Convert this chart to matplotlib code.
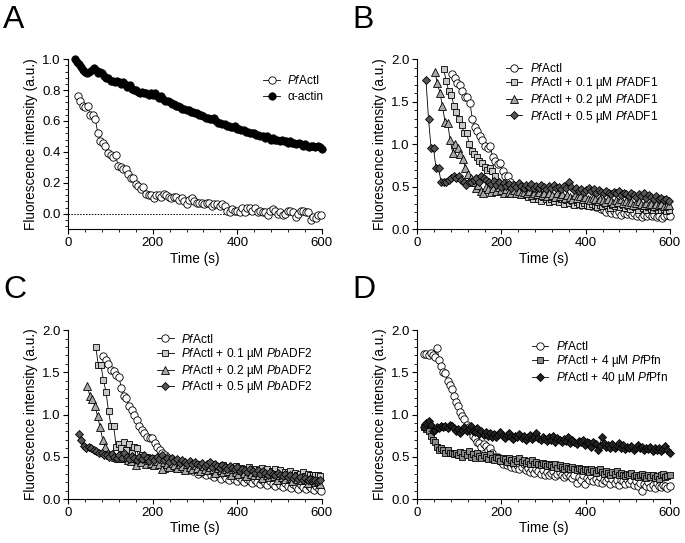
import numpy as np
import matplotlib
matplotlib.use('Agg')
import matplotlib.pyplot as plt
from matplotlib.ticker import MultipleLocator

plt.rcParams['font.family'] = ['Liberation Sans', 'DejaVu Sans']
plt.rcParams['mathtext.fontset'] = 'custom'
plt.rcParams['mathtext.rm'] = 'Liberation Sans'
plt.rcParams['mathtext.it'] = 'Liberation Sans:italic'

# ---------------- data ----------------
# Panel A
a_pf_t = (22, 598)
a_pf = [0.76, 0.73, 0.70, 0.69, 0.70, 0.64, 0.64, 0.61, 0.52, 0.47, 0.46, 0.44, 0.39, 0.38,
        0.37, 0.38, 0.31, 0.30, 0.29, 0.29, 0.26, 0.23, 0.23, 0.19, 0.18, 0.16, 0.17, 0.13,
        0.12, 0.12, 0.10, 0.12, 0.12, 0.11, 0.13, 0.12, 0.11, 0.10, 0.11, 0.11, 0.09, 0.10,
        0.08, 0.06, 0.09, 0.10, 0.08, 0.07, 0.07, 0.07, 0.06, 0.07, 0.07, 0.05, 0.06, 0.06,
        0.05, 0.06, 0.05, 0.02, 0.01, 0.03, 0.02, 0.02, 0.01, 0.04, 0.01, 0.04, 0.04, 0.02,
        0.04, 0.01, 0.02, 0.01, 0.01, -0.01, 0.02, 0.03, 0.02, 0.00, 0.01, -0.01, 0.00, 0.02,
        0.02, 0.01, -0.02, 0.00, 0.02, 0.02, 0.01, 0.01, -0.04, -0.02, -0.03, -0.01, -0.01]
a_alpha_t = (15, 600)
a_alpha = [1.00, 0.98, 0.97, 0.95, 0.93, 0.92, 0.91, 0.92, 0.93, 0.94, 0.93, 0.91, 0.92, 0.91,
           0.89, 0.88, 0.88, 0.86, 0.86, 0.85, 0.86, 0.85, 0.84, 0.85, 0.84, 0.82, 0.83, 0.81,
           0.80, 0.80, 0.79, 0.78, 0.79, 0.78, 0.78, 0.77, 0.78, 0.77, 0.78, 0.76, 0.75, 0.76,
           0.74, 0.73, 0.73, 0.72, 0.71, 0.71, 0.70, 0.70, 0.69, 0.68, 0.68, 0.67, 0.67, 0.66,
           0.66, 0.65, 0.65, 0.64, 0.64, 0.63, 0.62, 0.62, 0.61, 0.61, 0.62, 0.60, 0.59, 0.59,
           0.58, 0.58, 0.57, 0.57, 0.56, 0.56, 0.57, 0.55, 0.55, 0.54, 0.54, 0.53, 0.53, 0.52,
           0.52, 0.52, 0.51, 0.51, 0.50, 0.50, 0.49, 0.50, 0.49, 0.48, 0.49, 0.48, 0.48, 0.47,
           0.48, 0.47, 0.47, 0.46, 0.47, 0.46, 0.46, 0.45, 0.46, 0.45, 0.44, 0.45, 0.44, 0.43,
           0.44, 0.44, 0.43, 0.44, 0.43, 0.42]

# Panel B
b_pf_t = (83, 599)
b_pf = [1.82, 1.78, 1.72, 1.70, 1.63, 1.56, 1.55, 1.49, 1.30, 1.20, 1.15, 1.10, 1.05, 0.98,
        0.95, 0.98, 0.85, 0.80, 0.77, 0.78, 0.68, 0.63, 0.62, 0.55, 0.52, 0.50, 0.48, 0.46,
        0.47, 0.44, 0.45, 0.42, 0.44, 0.40, 0.42, 0.38, 0.40, 0.37, 0.39, 0.36, 0.38, 0.35,
        0.37, 0.34, 0.35, 0.33, 0.35, 0.31, 0.33, 0.30, 0.32, 0.29, 0.31, 0.28, 0.30, 0.27,
        0.28, 0.26, 0.27, 0.24, 0.22, 0.20, 0.22, 0.19, 0.21, 0.18, 0.20, 0.17, 0.19, 0.18,
        0.20, 0.17, 0.19, 0.16, 0.18, 0.14, 0.17, 0.16, 0.18, 0.15, 0.17, 0.14, 0.16, 0.13,
        0.15, 0.17, 0.15]
b_01_t = (63, 597)
b_01 = [1.88, 1.74, 1.62, 1.58, 1.45, 1.38, 1.30, 1.22, 1.13, 1.13, 1.00, 0.92, 0.88, 0.85,
        0.80, 0.78, 0.73, 0.70, 0.72, 0.68, 0.62, 0.55, 0.52, 0.50, 0.48, 0.52, 0.45, 0.47,
        0.43, 0.46, 0.42, 0.40, 0.44, 0.38, 0.41, 0.36, 0.40, 0.35, 0.33, 0.38, 0.35, 0.32,
        0.36, 0.33, 0.37, 0.32, 0.35, 0.30, 0.34, 0.31, 0.33, 0.29, 0.32, 0.30, 0.28, 0.31,
        0.29, 0.27, 0.30, 0.28, 0.26, 0.29, 0.27, 0.30, 0.28, 0.25, 0.29, 0.27, 0.30, 0.26,
        0.28, 0.25, 0.27, 0.24, 0.28, 0.26, 0.23, 0.27, 0.25, 0.22, 0.26, 0.24, 0.22, 0.25,
        0.23, 0.22, 0.24, 0.21, 0.22]
b_02_t = (42, 598)
b_02 = [1.85, 1.72, 1.60, 1.45, 1.26, 1.25, 1.05, 0.90, 1.00, 0.95, 0.88, 0.82, 0.72, 0.65,
        0.60, 0.55, 0.48, 0.52, 0.45, 0.42, 0.50, 0.47, 0.44, 0.48, 0.45, 0.50, 0.46, 0.43,
        0.47, 0.44, 0.42, 0.46, 0.43, 0.45, 0.41, 0.44, 0.42, 0.45, 0.40, 0.43, 0.41, 0.44,
        0.40, 0.42, 0.39, 0.43, 0.40, 0.38, 0.42, 0.39, 0.41, 0.37, 0.40, 0.38, 0.36, 0.40,
        0.37, 0.39, 0.35, 0.38, 0.36, 0.34, 0.37, 0.35, 0.33, 0.36, 0.34, 0.32, 0.35, 0.33,
        0.31, 0.34, 0.32, 0.35, 0.31, 0.33, 0.30, 0.32, 0.29, 0.31, 0.33, 0.30, 0.28, 0.31,
        0.29, 0.30, 0.27, 0.30, 0.28, 0.30, 0.27, 0.29, 0.28]
b_05_t = (21, 597)
b_05 = [1.75, 1.30, 0.96, 0.95, 0.72, 0.72, 0.56, 0.56, 0.55, 0.58, 0.60, 0.62, 0.60, 0.63,
        0.58, 0.55, 0.52, 0.55, 0.55, 0.58, 0.60, 0.55, 0.62, 0.60, 0.58, 0.55, 0.53, 0.57,
        0.52, 0.55, 0.50, 0.54, 0.51, 0.53, 0.49, 0.52, 0.50, 0.54, 0.51, 0.48, 0.52, 0.50,
        0.53, 0.49, 0.51, 0.48, 0.52, 0.50, 0.47, 0.51, 0.49, 0.52, 0.48, 0.50, 0.47, 0.51,
        0.49, 0.55, 0.50, 0.46, 0.48, 0.45, 0.47, 0.44, 0.46, 0.48, 0.45, 0.47, 0.43, 0.46,
        0.44, 0.42, 0.45, 0.43, 0.41, 0.44, 0.42, 0.45, 0.40, 0.43, 0.41, 0.39, 0.42, 0.40,
        0.38, 0.41, 0.39, 0.42, 0.37, 0.40, 0.38, 0.36, 0.39, 0.35, 0.37, 0.34, 0.36, 0.33]

# Panel C
c_pf_t = (83, 599)
c_pf = [1.69, 1.65, 1.60, 1.53, 1.52, 1.47, 1.45, 1.32, 1.22, 1.20, 1.10, 1.05, 1.00, 0.93,
        0.86, 0.82, 0.78, 0.74, 0.72, 0.72, 0.66, 0.62, 0.58, 0.55, 0.52, 0.50, 0.47, 0.44,
        0.42, 0.45, 0.40, 0.37, 0.40, 0.35, 0.38, 0.33, 0.36, 0.30, 0.34, 0.31, 0.28, 0.33,
        0.29, 0.26, 0.31, 0.27, 0.24, 0.29, 0.25, 0.22, 0.27, 0.24, 0.21, 0.26, 0.23, 0.20,
        0.24, 0.21, 0.19, 0.23, 0.20, 0.18, 0.22, 0.19, 0.17, 0.21, 0.18, 0.16, 0.20, 0.17,
        0.14, 0.19, 0.16, 0.13, 0.18, 0.15, 0.12, 0.17, 0.14, 0.12, 0.16, 0.13, 0.11, 0.15,
        0.12, 0.10]
c_01_t = (65, 597)
c_01 = [1.80, 1.59, 1.59, 1.41, 1.27, 1.04, 0.86, 0.87, 0.62, 0.65, 0.60, 0.67, 0.58, 0.65,
        0.55, 0.62, 0.60, 0.48, 0.52, 0.47, 0.50, 0.45, 0.48, 0.44, 0.47, 0.42, 0.46, 0.36,
        0.44, 0.40, 0.46, 0.38, 0.42, 0.36, 0.40, 0.43, 0.37, 0.41, 0.35, 0.39, 0.42, 0.36,
        0.40, 0.34, 0.38, 0.41, 0.35, 0.39, 0.33, 0.37, 0.40, 0.34, 0.38, 0.32, 0.36, 0.39,
        0.33, 0.37, 0.31, 0.35, 0.38, 0.32, 0.36, 0.30, 0.34, 0.37, 0.31, 0.35, 0.29, 0.33,
        0.36, 0.30, 0.34, 0.28, 0.32, 0.30, 0.33, 0.29, 0.31, 0.28, 0.30, 0.32, 0.27, 0.30,
        0.28, 0.29, 0.28, 0.29, 0.27]
c_02_t = (45, 597)
c_02 = [1.34, 1.22, 1.18, 1.10, 0.98, 0.85, 0.70, 0.62, 0.55, 0.52, 0.53, 0.50, 0.49, 0.51,
        0.48, 0.50, 0.46, 0.45, 0.49, 0.40, 0.47, 0.44, 0.48, 0.42, 0.46, 0.43, 0.40, 0.45,
        0.42, 0.36, 0.44, 0.41, 0.38, 0.43, 0.40, 0.37, 0.42, 0.39, 0.34, 0.41, 0.38, 0.36,
        0.40, 0.37, 0.33, 0.39, 0.36, 0.34, 0.38, 0.35, 0.31, 0.37, 0.34, 0.32, 0.36, 0.33,
        0.29, 0.35, 0.32, 0.30, 0.34, 0.31, 0.27, 0.33, 0.30, 0.28, 0.32, 0.29, 0.25, 0.31,
        0.28, 0.26, 0.30, 0.27, 0.23, 0.29, 0.26, 0.24, 0.28, 0.25, 0.21, 0.27, 0.24, 0.22,
        0.26, 0.23, 0.19, 0.25, 0.22, 0.20, 0.21, 0.18]
c_05_t = (25, 597)
c_05 = [0.77, 0.70, 0.63, 0.60, 0.62, 0.60, 0.58, 0.57, 0.55, 0.55, 0.52, 0.52, 0.50, 0.53,
        0.50, 0.48, 0.52, 0.49, 0.55, 0.50, 0.47, 0.51, 0.48, 0.46, 0.50, 0.47, 0.52, 0.48,
        0.45, 0.49, 0.46, 0.50, 0.47, 0.52, 0.46, 0.49, 0.44, 0.48, 0.45, 0.47, 0.43, 0.46,
        0.44, 0.42, 0.45, 0.41, 0.44, 0.42, 0.40, 0.43, 0.39, 0.42, 0.44, 0.38, 0.41, 0.39,
        0.37, 0.40, 0.38, 0.36, 0.39, 0.37, 0.35, 0.38, 0.33, 0.36, 0.34, 0.32, 0.35, 0.33,
        0.31, 0.34, 0.30, 0.33, 0.31, 0.29, 0.32, 0.30, 0.28, 0.31, 0.29, 0.27, 0.30, 0.26,
        0.28, 0.25, 0.27, 0.24, 0.26, 0.23, 0.25, 0.22, 0.24, 0.22, 0.23, 0.21, 0.22]

# Panel D
d_pf_t = (17, 599)
d_pf = [1.72, 1.72, 1.70, 1.73, 1.71, 1.68, 1.79, 1.65, 1.58, 1.50, 1.49, 1.40, 1.35, 1.30,
        1.22, 1.15, 1.10, 1.03, 0.98, 0.95, 0.88, 0.85, 0.80, 0.75, 0.72, 0.68, 0.66, 0.62,
        0.65, 0.63, 0.58, 0.60, 0.55, 0.50, 0.47, 0.50, 0.45, 0.42, 0.45, 0.40, 0.43, 0.38,
        0.41, 0.37, 0.40, 0.35, 0.38, 0.42, 0.34, 0.37, 0.32, 0.36, 0.31, 0.35, 0.33, 0.30,
        0.34, 0.29, 0.32, 0.28, 0.31, 0.33, 0.27, 0.30, 0.32, 0.28, 0.26, 0.29, 0.31, 0.27,
        0.25, 0.29, 0.19, 0.26, 0.22, 0.28, 0.18, 0.25, 0.22, 0.27, 0.21, 0.24, 0.20, 0.26,
        0.19, 0.23, 0.21, 0.25, 0.18, 0.24, 0.19, 0.22, 0.17, 0.23, 0.21, 0.18, 0.24, 0.19,
        0.22, 0.17, 0.21, 0.15, 0.19, 0.10, 0.18, 0.15, 0.20, 0.14, 0.17, 0.13, 0.19, 0.16,
        0.14, 0.17, 0.15, 0.13, 0.15]
d_4_t = (17, 599)
d_4 = [0.85, 0.83, 0.80, 0.75, 0.70, 0.68, 0.62, 0.58, 0.60, 0.58, 0.55, 0.58, 0.55, 0.55,
       0.53, 0.55, 0.52, 0.56, 0.50, 0.54, 0.52, 0.57, 0.50, 0.53, 0.49, 0.55, 0.51, 0.48,
       0.52, 0.50, 0.47, 0.53, 0.49, 0.46, 0.50, 0.48, 0.45, 0.49, 0.47, 0.44, 0.48, 0.46,
       0.43, 0.47, 0.45, 0.49, 0.44, 0.46, 0.43, 0.45, 0.42, 0.46, 0.41, 0.44, 0.42, 0.40,
       0.43, 0.41, 0.39, 0.42, 0.40, 0.38, 0.41, 0.37, 0.40, 0.38, 0.36, 0.39, 0.37, 0.35,
       0.38, 0.36, 0.34, 0.37, 0.35, 0.33, 0.36, 0.34, 0.32, 0.35, 0.33, 0.31, 0.34, 0.36,
       0.32, 0.30, 0.33, 0.31, 0.29, 0.32, 0.30, 0.33, 0.28, 0.31, 0.29, 0.27, 0.30, 0.28,
       0.31, 0.27, 0.29, 0.26, 0.28, 0.30, 0.27, 0.25, 0.28, 0.26, 0.29, 0.25, 0.27, 0.24,
       0.28, 0.30, 0.26, 0.27, 0.28]
d_40_t = (17, 599)
d_40 = [0.85, 0.90, 0.92, 0.88, 0.80, 0.82, 0.85, 0.84, 0.86, 0.85, 0.87, 0.84, 0.88, 0.86,
        0.84, 0.80, 0.83, 0.78, 0.82, 0.85, 0.80, 0.83, 0.86, 0.81, 0.79, 0.84, 0.77, 0.80,
        0.76, 0.79, 0.75, 0.78, 0.74, 0.77, 0.73, 0.76, 0.79, 0.75, 0.72, 0.76, 0.78, 0.74,
        0.71, 0.75, 0.73, 0.77, 0.72, 0.75, 0.70, 0.74, 0.76, 0.71, 0.73, 0.78, 0.72, 0.70,
        0.74, 0.71, 0.69, 0.73, 0.70, 0.75, 0.68, 0.72, 0.70, 0.67, 0.71, 0.69, 0.73, 0.66,
        0.70, 0.68, 0.65, 0.69, 0.67, 0.70, 0.64, 0.68, 0.66, 0.62, 0.67, 0.65, 0.58, 0.63,
        0.74, 0.66, 0.62, 0.64, 0.61, 0.65, 0.60, 0.63, 0.66, 0.61, 0.64, 0.59, 0.62, 0.60,
        0.63, 0.58, 0.61, 0.64, 0.60, 0.62, 0.58, 0.61, 0.59, 0.62, 0.57, 0.60, 0.58, 0.61,
        0.57, 0.59, 0.63, 0.58, 0.55]

PF = r'$\mathit{Pf}$ActI'
labels_a = [PF, 'α-actin']
labels_b = [PF] + [PF + ' + %s µM $\\mathit{Pf}$ADF1' % c for c in ('0.1', '0.2', '0.5')]
labels_c = [PF] + [PF + ' + %s µM $\\mathit{Pb}$ADF2' % c for c in ('0.1', '0.2', '0.5')]
labels_d = [PF, PF + ' + 4 µM $\\mathit{Pf}$Pfn', PF + ' + 40 µM $\\mathit{Pf}$Pfn']

# marker styles: (marker, facecolor, size)
circ = ('o', 'white', 5.3)
sq_light = ('s', '#c8c8c8', 5.0)
tri = ('^', '#a8a8a8', 5.6)
dia_dark = ('D', '#555555', 4.4)


def series(ax, trange, vals, style, label):
    t = np.linspace(trange[0], trange[1], len(vals))
    m, fc, ms = style
    ax.plot(t, vals, '-', color='black', lw=0.6, marker=m, mfc=fc, mec='black',
            mew=0.6, ms=ms, label=label, clip_on=False)


def style_axes(ax, ylim, ymaj, ymin):
    ax.set_xlim(0, 600)
    ax.set_ylim(*ylim)
    ax.spines['top'].set_visible(False)
    ax.spines['right'].set_visible(False)
    ax.spines['left'].set_linewidth(0.8)
    ax.spines['bottom'].set_linewidth(0.8)
    ax.xaxis.set_major_locator(MultipleLocator(200))
    ax.xaxis.set_minor_locator(MultipleLocator(40))
    ax.yaxis.set_major_locator(MultipleLocator(ymaj))
    ax.yaxis.set_minor_locator(MultipleLocator(ymin))
    ax.yaxis.set_major_formatter(plt.FormatStrFormatter('%.1f'))
    ax.tick_params(which='major', length=3.5, width=0.8, labelsize=9.5, pad=2)
    ax.tick_params(which='minor', length=2, width=0.6)
    ax.set_xlabel('Time (s)', fontsize=9.8, labelpad=2)
    ax.set_ylabel('Fluorescence intensity (a.u.)', fontsize=9.8, labelpad=3)


def legend(ax, x, y, spacing):
    ax.legend(loc='upper left', bbox_to_anchor=(x, y), frameon=False, fontsize=8.6,
              borderpad=0, borderaxespad=0, handlelength=1.4, handletextpad=0.6,
              labelspacing=spacing, numpoints=1)


fig = plt.figure(figsize=(6.85, 5.43), dpi=100)
axA = fig.add_axes([0.0997, 0.578, 0.370, 0.313])
axB = fig.add_axes([0.609, 0.578, 0.369, 0.313])
axC = fig.add_axes([0.0997, 0.081, 0.370, 0.311])
axD = fig.add_axes([0.609, 0.081, 0.369, 0.311])

# A
style_axes(axA, (-0.1, 1.0), 0.2, 0.04)
axA.axhline(0, color='black', lw=0.7, ls=(0, (1.5, 1.5)))
series(axA, a_pf_t, a_pf, circ, labels_a[0])
series(axA, a_alpha_t, a_alpha, ('o', 'black', 5.3), labels_a[1])
legend(axA, 0.77, 0.91, 0.3)

# B
style_axes(axB, (0, 2.0), 0.5, 0.1)
series(axB, b_pf_t, b_pf, circ, labels_b[0])
series(axB, b_01_t, b_01, sq_light, labels_b[1])
series(axB, b_02_t, b_02, tri, labels_b[2])
series(axB, b_05_t, b_05, dia_dark, labels_b[3])
legend(axB, 0.35, 0.985, 0.05)

# C
style_axes(axC, (0, 2.0), 0.5, 0.1)
series(axC, c_pf_t, c_pf, circ, labels_c[0])
series(axC, c_01_t, c_01, sq_light, labels_c[1])
series(axC, c_02_t, c_02, tri, labels_c[2])
series(axC, c_05_t, c_05, dia_dark, labels_c[3])
legend(axC, 0.35, 0.985, 0.05)

# D
style_axes(axD, (0, 2.0), 0.5, 0.1)
series(axD, d_pf_t, d_pf, circ, labels_d[0])
series(axD, d_4_t, d_4, ('s', '#8c8c8c', 5.0), labels_d[1])
series(axD, d_40_t, d_40, ('D', '#222222', 4.4), labels_d[2])
legend(axD, 0.453, 0.943, 0.05)

for lab, x, y in [('A', 0.005, 0.948), ('B', 0.515, 0.948),
                  ('C', 0.005, 0.451), ('D', 0.515, 0.451)]:
    fig.text(x, y, lab, fontsize=23, va='baseline', ha='left')

fig.savefig('out.png', dpi=100)
